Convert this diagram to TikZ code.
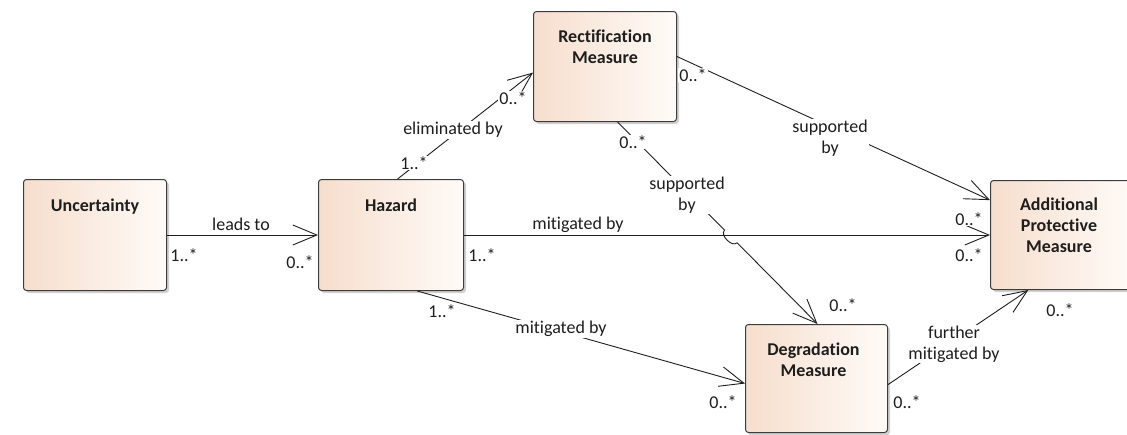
\documentclass[tikz,border=0pt]{standalone}
\usepackage{fontspec}
\setmainfont{Carlito}[Ligatures={NoCommon}]
\usetikzlibrary{arrows.meta,calc,shadows}
\definecolor{peachL}{RGB}{246,222,205}
\definecolor{peachR}{RGB}{255,251,248}
\definecolor{edgegray}{RGB}{60,60,60}
\definecolor{ink}{RGB}{30,30,30}

\begin{document}
\begin{tikzpicture}[x=1pt,y=-1pt,
  cls/.style={draw=edgegray, line width=1pt, rounded corners=3pt,
    left color=peachL, right color=peachR, anchor=north west, inner sep=0pt,
    drop shadow={shadow xshift=2.5pt, shadow yshift=-2.5pt, fill=black!30, opacity=0.6}},
  title/.style={font=\fontsize{18}{21}\selectfont\bfseries, align=center,
    anchor=north, inner sep=0pt, text=ink},
  assoc/.style={draw=ink, line width=0.9pt,
    -{Straight Barb[length=24pt,width=20pt,line width=0.9pt]}},
  lbl/.style={font=\fontsize{18}{21}\selectfont, align=center, fill=white,
    inner sep=1pt, text=ink},
]
\useasboundingbox (0,0) rectangle (1127,434);

% classes
\node[cls, minimum width=143pt, minimum height=111pt] (unc) at (23,179) {};
\node[cls, minimum width=145pt, minimum height=111pt] (haz) at (318,179) {};
\node[cls, minimum width=143pt, minimum height=110pt] (rec) at (533,11) {};
\node[cls, minimum width=143pt, minimum height=109pt] (apm) at (990,180) {};
\node[cls, minimum width=142pt, minimum height=108pt] (deg) at (745,324) {};

\node[title] (unc-t) at ($(unc.north)+(0,19.5)$) {Uncertainty};
\node[title] (haz-t) at ($(haz.north)+(0,19.5)$) {Hazard};
\node[title] (rec-t) at ($(rec.north)+(0,18.5)$) {Rectification\\Measure};
\node[title] (apm-t) at ($(apm.north)+(-3,18)$) {Additional\\Protective\\Measure};
\node[title] (deg-t) at ($(deg.north)+(-3,19)$) {Degradation\\Measure};

% associations
\draw[assoc] (unc.east) -- (haz.west);
\draw[assoc] (haz.east) -- (haz.east -| apm.west);
\draw[assoc] ($(haz.north west)!0.545!(haz.north east)$) -- ($(rec.north west)!0.555!(rec.south west)$);
\draw[assoc] ($(rec.north east)!0.41!(rec.south east)$) -- ($(apm.north west)!0.183!(apm.south west)$);
\draw[assoc] ($(haz.south west)!0.68!(haz.south east)$) -- ($(deg.north west)!0.546!(deg.south west)$);
\draw[assoc] ($(deg.north east)!0.556!(deg.south east)$) -- ($(apm.south west)!0.266!(apm.south east)$);

% this one hops over the horizontal "mitigated by" line
\coordinate (rs) at ($(rec.south west)!0.587!(rec.south east)$);
\coordinate (dn) at ($(deg.north west)!0.507!(deg.north east)$);
\coordinate (hA) at ($(rs)!0.535!(dn)$);
\coordinate (hB) at ($(rs)!0.598!(dn)$);
\draw[assoc] (rs) -- (hA) to[bend right=90] (hB) -- (dn);

% role names and multiplicities
\node[lbl] (l1) at (241,224) {leads to};
\node[lbl] (m1a) at (184,255) {1..*};
\node[lbl] (m1b) at (300,262) {0..*};

\node[lbl] (l2) at (453,130) {eliminated by};
\node[lbl] (m2a) at (414,163) {1..*};
\node[lbl] (m2b) at (513,98) {0..*};

\node[lbl] (l3) at (830,138) {supported\\by};
\node[lbl] (m3a) at (693,75) {0..*};
\node[lbl] (m3b) at (969,219) {0..*};

\node[lbl] (l4) at (578,225) {mitigated by};
\node[lbl] (m4a) at (482,255) {1..*};
\node[lbl] (m4b) at (969,255) {0..*};

\node[lbl] (l5) at (687,195) {supported\\by};
\node[lbl] (m5a) at (633,142) {0..*};
\node[lbl] (m5b) at (843,305) {0..*};

\node[lbl] (l6) at (561,329) {mitigated by};
\node[lbl] (m6a) at (442,311) {1..*};
\node[lbl] (m6b) at (723,402) {0..*};

\node[lbl] (l7) at (954,344) {further\\mitigated by};
\node[lbl] (m7a) at (907,402) {0..*};
\node[lbl] (m7b) at (1060,310) {0..*};
\end{tikzpicture}
\end{document}
